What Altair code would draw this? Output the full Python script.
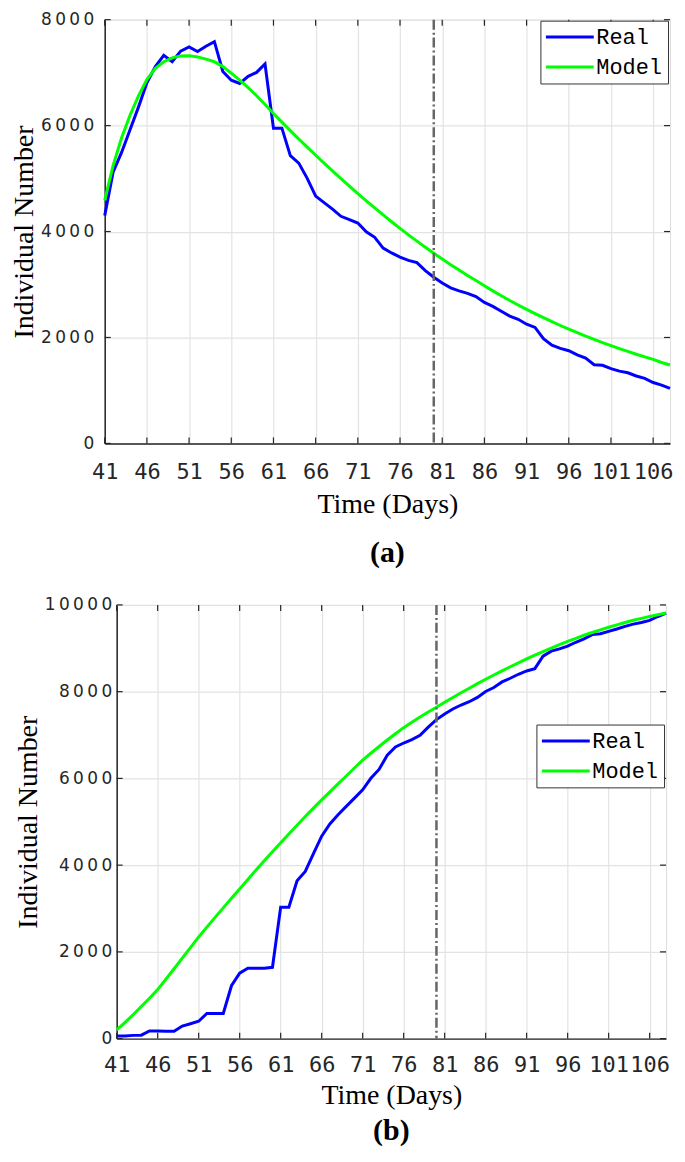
import altair as alt
import pandas as pd

days = list(range(41, 109))

real_a = [4300, 5127, 5494, 5921, 6349, 6807, 7114, 7328, 7206, 7407,
          7486, 7400, 7499, 7585, 7022, 6857, 6796, 6930, 7004, 7163,
          5952, 5952, 5431, 5292, 5004, 4668, 4545, 4422, 4288, 4227,
          4160, 3994, 3890, 3688, 3596, 3517, 3456, 3413, 3261, 3138,
          3028, 2936, 2881, 2833, 2771, 2661, 2587, 2495, 2404, 2343,
          2251, 2190, 1976, 1853, 1793, 1750, 1670, 1609, 1486, 1475,
          1413, 1365, 1334, 1273, 1229, 1150, 1101, 1040]
model_a = [4587, 5248, 5769, 6196, 6563, 6870, 7083, 7206, 7279, 7316,
           7321, 7297, 7255, 7206, 7114, 6991, 6857, 6716, 6563, 6398,
           6227, 6065, 5905, 5748, 5593, 5441, 5291, 5144, 4999, 4857,
           4717, 4580, 4445, 4313, 4185, 4060, 3938, 3819, 3703, 3590,
           3481, 3375, 3272, 3172, 3075, 2975, 2880, 2787, 2697, 2612,
           2530, 2450, 2373, 2298, 2226, 2157, 2090, 2026, 1964, 1904,
           1846, 1790, 1736, 1684, 1634, 1586, 1527, 1480]

real_b = [60, 60, 75, 80, 175, 175, 168, 168, 290, 343,
          400, 580, 580, 580, 1219, 1508, 1622, 1622, 1622, 1645,
          3031, 3031, 3641, 3854, 4265, 4669, 4951, 5164, 5354, 5545,
          5735, 6002, 6207, 6535, 6725, 6816, 6893, 6992, 7182, 7357,
          7487, 7601, 7692, 7768, 7867, 8005, 8096, 8225, 8309, 8401,
          8477, 8530, 8819, 8934, 8987, 9048, 9139, 9216, 9315, 9337,
          9391, 9444, 9505, 9558, 9596, 9642, 9733, 9810]
model_b = [200, 370, 550, 740, 930, 1130, 1370, 1610, 1855, 2100,
           2345, 2570, 2795, 3015, 3235, 3450, 3670, 3890, 4100, 4310,
           4515, 4720, 4920, 5120, 5315, 5505, 5690, 5875, 6055, 6240,
           6420, 6580, 6735, 6885, 7030, 7170, 7295, 7415, 7530, 7640,
           7755, 7865, 7975, 8080, 8185, 8285, 8385, 8480, 8575, 8665,
           8755, 8840, 8925, 9005, 9085, 9160, 9230, 9300, 9365, 9425,
           9485, 9540, 9595, 9645, 9690, 9735, 9775, 9815]

x_ticks = [41, 46, 51, 56, 61, 66, 71, 76, 81, 86, 91, 96, 101, 106]
ya_ticks = [0, 2000, 4000, 6000, 8000]
yb_ticks = [0, 2000, 4000, 6000, 8000, 10000]
split_day = [80]
series = ["Real", "Model"]
colors = ["#0000ff", "#00ff00"]
x_domain = [41, 108]

AXIS_COL = "#262626"
SPACED = "join(split(datum.label, ''), '\u2009')"


def panel(real, model, ymax, yticks, W, H, label, lx, ly,
          ylab_pad, xlab_pad, xtitle_pad, title_off):
    n = len(days)
    df = pd.DataFrame({
        "day": days * 2,
        "value": real + model,
        "series": ["Real"] * n + ["Model"] * n,
    })
    xenc = alt.X(
        "day:Q",
        scale=alt.Scale(domain=x_domain, nice=False, zero=False),
        axis=alt.Axis(
            values=x_ticks, title="Time (Days)", grid=True, ticks=False,
            labelOverlap=False, labelFlush=False, format="d",
            labelFont="DejaVu Sans Mono", labelFontSize=22,
            labelColor=AXIS_COL, labelPadding=xlab_pad,
            titleFont="Liberation Serif", titleFontSize=28,
            titleFontWeight="normal", titleColor="#000000",
            titlePadding=xtitle_pad,
            domainColor=AXIS_COL, domainWidth=1.5,
            gridColor="#e3e3e3", gridWidth=1.2,
        ),
    )
    yenc = alt.Y(
        "value:Q",
        scale=alt.Scale(domain=[0, ymax], nice=False),
        axis=alt.Axis(
            values=yticks, title="Individual Number", grid=True, ticks=False,
            format="d", labelExpr=SPACED,
            labelFont="DejaVu Sans", labelFontSize=17,
            labelColor=AXIS_COL, labelPadding=ylab_pad, labelFlush=False,
            labelOverlap=False,
            titleFont="Liberation Serif", titleFontSize=28,
            titleFontWeight="normal", titleColor="#000000", titlePadding=2,
            domainColor=AXIS_COL, domainWidth=1.5,
            gridColor="#e3e3e3", gridWidth=1.2,
        ),
    )
    lines = alt.Chart(df).mark_line(strokeWidth=3).encode(
        x=xenc,
        y=yenc,
        color=alt.Color(
            "series:N",
            scale=alt.Scale(domain=series, range=colors),
            sort=series,
            legend=alt.Legend(
                title=None, orient="none", legendX=lx, legendY=ly,
                symbolType="M-2.4,0L2.4,0", symbolSize=400,
                symbolStrokeWidth=3, symbolOffset=13,
                labelFont="Liberation Mono", labelFontSize=22,
                labelColor="#000000", labelOffset=15,
                strokeColor="#333333", fillColor="#ffffff", padding=5,
                rowPadding=7,
            ),
        ),
        order=alt.Order("series_order:Q"),
    ).transform_calculate(
        series_order="datum.series == 'Real' ? 0 : 1"
    )

    vline = alt.Chart(pd.DataFrame({"day": split_day})).mark_rule(
        color="#666666", strokeWidth=2.5, strokeDash=[10, 3, 2, 3]
    ).encode(x="day:Q")

    xt = pd.DataFrame({"day": x_ticks})
    yt = pd.DataFrame({"value": yticks})
    tick_style = dict(color=AXIS_COL, strokeWidth=1.2)
    xb = alt.Chart(xt).mark_rule(**tick_style).encode(
        x="day:Q", y=alt.value(H), y2=alt.value(H - 6))
    xtop = alt.Chart(xt).mark_rule(**tick_style).encode(
        x="day:Q", y=alt.value(0), y2=alt.value(6))
    yl = alt.Chart(yt).mark_rule(**tick_style).encode(
        y="value:Q", x=alt.value(0), x2=alt.value(6))
    yr = alt.Chart(yt).mark_rule(**tick_style).encode(
        y="value:Q", x=alt.value(W - 6), x2=alt.value(W))

    return alt.layer(lines, vline, xb, xtop, yl, yr).properties(
        width=W, height=H,
        title=alt.TitleParams(
            label, orient="bottom", anchor="middle", frame="group",
            font="Liberation Serif", fontSize=30, fontWeight="bold",
            color="#000000", offset=title_off,
        ),
    )


top = panel(real_a, model_a, 8000, ya_ticks, 567, 425, "(a)", 437, 1,
            11, 18, 8, 20)
bottom = panel(real_b, model_b, 10000, yb_ticks, 551, 435, "(b)", 433, 120,
               5, 16, 6, 7)

# invisible 1px spacer that pushes the lower panel a little to the right
spacer = alt.Chart(pd.DataFrame({"v": [0]})).mark_point(opacity=0).encode(
    x=alt.X("v:Q", axis=None), y=alt.Y("v:Q", axis=None)
).properties(width=1, height=1, view=alt.ViewBackground(strokeOpacity=0))

bottom_row = alt.hconcat(spacer, bottom, spacing=-96)

chart = alt.vconcat(top, bottom_row, spacing=26).resolve_scale(
    color="independent"
).resolve_legend(
    color="independent"
).properties(
    padding={"left": 2, "top": 0, "right": 0, "bottom": 0},
).configure_view(stroke="#333333", strokeWidth=1.5).configure(
    background="#ffffff"
)

chart.save("out.html", embed_options={"renderer": "svg", "actions": False})
